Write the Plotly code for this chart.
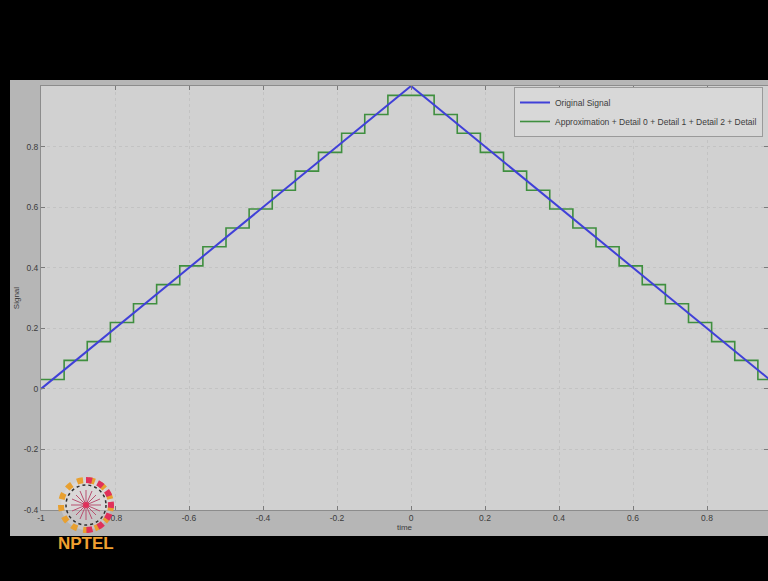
import plotly.graph_objects as go

# ---- data ----
time_orig = [-1.0, 0.0, 1.0]
signal_orig = [0.0, 1.0, 0.0]

step_edges = [-1.0, -0.9375, -0.875, -0.8125, -0.75, -0.6875, -0.625, -0.5625,
              -0.5, -0.4375, -0.375, -0.3125, -0.25, -0.1875, -0.125, -0.0625,
              0.0, 0.0625, 0.125, 0.1875, 0.25, 0.3125, 0.375, 0.4375,
              0.5, 0.5625, 0.625, 0.6875, 0.75, 0.8125, 0.875, 0.9375, 1.0]
step_values = [0.031, 0.094, 0.156, 0.219, 0.281, 0.344, 0.406, 0.469,
               0.531, 0.594, 0.656, 0.719, 0.781, 0.844, 0.906, 0.969,
               0.969, 0.906, 0.844, 0.781, 0.719, 0.656, 0.594, 0.531,
               0.469, 0.406, 0.344, 0.281, 0.219, 0.156, 0.094, 0.031]

x_ticks = [-1, -0.8, -0.6, -0.4, -0.2, 0, 0.2, 0.4, 0.6, 0.8]
x_tick_labels = ["-1", "-0.8", "-0.6", "-0.4", "-0.2", "0", "0.2", "0.4", "0.6", "0.8"]
y_ticks = [-0.4, -0.2, 0, 0.2, 0.4, 0.6, 0.8]
y_tick_labels = ["-0.4", "-0.2", "0", "0.2", "0.4", "0.6", "0.8"]

label_orig = "Original Signal"
label_approx = "Approximation + Detail 0 + Detail 1 + Detail 2 + Detail"

# ---- geometry (pixels) ----
W, H = 768, 581
ML, MR, MT, MB = 41, 0, 86, 71
PW, PH = W - ML - MR, H - MT - MB
FONT = "Liberation Sans, Arial"


def px(x):
    return (x - ML) / PW


def py(y):
    return (H - MB - y) / PH


fig = go.Figure()

fig.add_trace(go.Scatter(
    x=step_edges, y=step_values + [step_values[-1]],
    mode="lines", line=dict(color="#3f8f3f", width=1.6, shape="hv"),
    name=label_approx,
))
fig.add_trace(go.Scatter(
    x=time_orig, y=signal_orig,
    mode="lines", line=dict(color="#4040d8", width=2),
    name=label_orig,
))

shapes = [
    # figure gray panel
    dict(type="rect", xref="paper", yref="paper", layer="below",
         x0=px(10), x1=px(790), y0=py(536), y1=py(80),
         fillcolor="#b6b6b6", line=dict(width=0)),
    # axes background
    dict(type="rect", xref="x domain", yref="y domain", layer="below",
         x0=0, x1=1, y0=0, y1=1, fillcolor="#d1d1d1", line=dict(width=0)),
]

# NPTEL logo (decoration)
cx, cy, r = 86, 505, 25
k = 0.5523 * r
shapes.append(dict(type="circle", xref="paper", yref="paper",
                   x0=px(cx - r), x1=px(cx + r), y0=py(cy + r), y1=py(cy - r),
                   fillcolor="rgba(235,230,230,0.35)",
                   line=dict(color="#e8a030", width=6, dash="dot")))
path = (f"M {px(cx)},{py(cy - r)} "
        f"C {px(cx + k)},{py(cy - r)} {px(cx + r)},{py(cy - k)} {px(cx + r)},{py(cy)} "
        f"C {px(cx + r)},{py(cy + k)} {px(cx + k)},{py(cy + r)} {px(cx)},{py(cy + r)}")
shapes.append(dict(type="path", xref="paper", yref="paper", path=path,
                   line=dict(color="#e0305a", width=6, dash="dot")))
ri = r - 5
shapes.append(dict(type="circle", xref="paper", yref="paper",
                   x0=px(cx - ri), x1=px(cx + ri), y0=py(cy + ri), y1=py(cy - ri),
                   line=dict(color="#303030", width=1.5, dash="dot")))
spokes = [(0, 15), (15, 0), (10, 10), (10, -10), (6, 14), (14, 6), (6, -14), (14, -6)]
for dx, dy in spokes:
    shapes.append(dict(type="line", xref="paper", yref="paper",
                       x0=px(cx - dx), x1=px(cx + dx), y0=py(cy - dy), y1=py(cy + dy),
                       line=dict(color="#b85070", width=1)))
shapes.append(dict(type="circle", xref="paper", yref="paper",
                   x0=px(cx - 3), x1=px(cx + 3), y0=py(cy + 3), y1=py(cy - 3),
                   fillcolor="#e0305a", line=dict(width=0)))

axis_common = dict(
    showline=True, linecolor="#8c8c8c", linewidth=1, mirror="ticks",
    ticks="inside", ticklen=4, tickcolor="#7a7a7a",
    showgrid=True, gridcolor="#c3c3c3", griddash="dot", gridwidth=1,
    zeroline=False, tickfont=dict(family=FONT, size=8.5, color="#3c3c3c"),
)

fig.update_layout(
    width=W, height=H,
    margin=dict(l=ML, r=MR, t=MT, b=MB, pad=0, autoexpand=False),
    paper_bgcolor="black", plot_bgcolor="rgba(0,0,0,0)",
    showlegend=True,
    legend=dict(x=px(514), y=py(87), xanchor="left", yanchor="top",
                bgcolor="#d8d8d8", bordercolor="#9a9a9a", borderwidth=1,
                font=dict(family=FONT, size=8.5, color="#3c3c3c"),
                traceorder="reversed", itemwidth=30, tracegroupgap=0),
    xaxis=dict(range=[-1, -1 + PW / 370.0], tickvals=x_ticks, ticktext=x_tick_labels,
               title=dict(text="time", standoff=2,
                          font=dict(family=FONT, size=8, color="#3c3c3c")),
               **axis_common),
    yaxis=dict(range=[-0.4, 1.0], tickvals=y_ticks, ticktext=y_tick_labels,
               title=dict(text="Signal", standoff=2,
                          font=dict(family=FONT, size=8, color="#3c3c3c")),
               **axis_common),
    shapes=shapes,
    annotations=[dict(text="<b>NPTEL</b>", xref="paper", yref="paper",
                      x=px(86), y=py(543), xanchor="center", yanchor="middle",
                      showarrow=False,
                      font=dict(family=FONT, size=17, color="#f0a030"))],
)

fig.write_html("out.html")
